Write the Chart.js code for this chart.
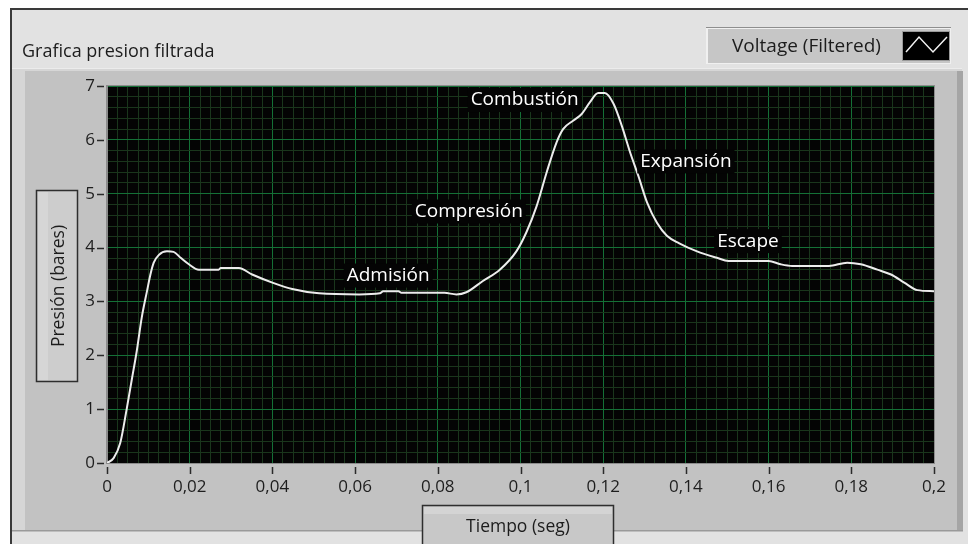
<!DOCTYPE html>
<html>
<head>
<meta charset="utf-8">
<script src="https://cdn.jsdelivr.net/npm/chart.js@4/dist/chart.umd.min.js"></script>
<style>
html,body{margin:0;padding:0;background:#fff;}
#wrap{position:relative;width:968px;height:544px;}
canvas{display:block;}
</style>
</head>
<body>
<div id="wrap"><canvas id="c" width="968" height="544"></canvas></div>
<script>
// ---------- data ----------
const chartTitle = 'Grafica presion filtrada';
const seriesName = 'Voltage (Filtered)';
const xAxisTitle = 'Tiempo (seg)';
const yAxisTitle = 'Presión (bares)';

const xTickValues = [0, 0.02, 0.04, 0.06, 0.08, 0.1, 0.12, 0.14, 0.16, 0.18, 0.2];
const xTickLabels = ['0', '0,02', '0,04', '0,06', '0,08', '0,1', '0,12', '0,14', '0,16', '0,18', '0,2'];
const yTickValues = [0, 1, 2, 3, 4, 5, 6, 7];
const yTickLabels = ['0', '1', '2', '3', '4', '5', '6', '7'];

const tiempo = [
  0, 0.0016, 0.0032, 0.0048, 0.006, 0.0072, 0.0084, 0.0097, 0.0105, 0.0113,
  0.0125, 0.0145, 0.0161, 0.0178, 0.0198, 0.0222, 0.027, 0.0275, 0.0319, 0.0351,
  0.04, 0.0448, 0.0513, 0.061, 0.066, 0.0668, 0.0705, 0.0712, 0.0816, 0.0845,
  0.0869, 0.0909, 0.095, 0.099, 0.1014, 0.1039, 0.1063, 0.1087, 0.1103, 0.1128,
  0.1148, 0.1168, 0.1188, 0.1204, 0.1225, 0.1245, 0.1265, 0.1285, 0.1306, 0.133,
  0.1354, 0.1384, 0.1427, 0.1475, 0.1503, 0.16, 0.1629, 0.1657, 0.1746, 0.179,
  0.1823, 0.1863, 0.1896, 0.1928, 0.196, 0.2
];
const presion = [
  0, 0.09, 0.37, 1.02, 1.55, 2.08, 2.70, 3.20, 3.50, 3.72,
  3.86, 3.93, 3.92, 3.81, 3.69, 3.59, 3.59, 3.62, 3.62, 3.50,
  3.35, 3.23, 3.15, 3.13, 3.15, 3.19, 3.19, 3.16, 3.16, 3.13,
  3.17, 3.38, 3.59, 3.93, 4.28, 4.77, 5.39, 5.95, 6.20, 6.36,
  6.48, 6.70, 6.87, 6.87, 6.67, 6.26, 5.77, 5.33, 4.84, 4.46,
  4.22, 4.08, 3.93, 3.81, 3.75, 3.75, 3.69, 3.66, 3.66, 3.72,
  3.69, 3.59, 3.50, 3.35, 3.21, 3.19
];

const phaseNames = ['Admisión', 'Compresión', 'Combustión', 'Expansión', 'Escape'];
const phaseTimes = [0.068, 0.0875, 0.101, 0.140, 0.155];
const phasePressures = [3.48, 4.67, 6.74, 5.60, 4.12];

// ---------- helpers ----------
const FONT = "'Open Sans', 'DejaVu Sans', sans-serif";
const MAJOR = 'rgb(20,112,54)';
const MINOR = 'rgb(26,54,28)';
function idxOf(arr, v) {
  for (let i = 0; i < arr.length; i++) if (Math.abs(arr[i] - v) < 1e-7) return i;
  return -1;
}

const framePlugin = {
  id: 'frame',
  beforeDraw(chart) {
    const ctx = chart.ctx;
    const a = chart.chartArea;
    ctx.save();
    // page
    ctx.fillStyle = '#ffffff';
    ctx.fillRect(0, 0, 968, 544);
    // outer dark border (top & left)
    ctx.fillStyle = '#3a3a3a';
    ctx.fillRect(10, 8, 958, 2);
    ctx.fillRect(10, 8, 2, 536);
    // light panel
    ctx.fillStyle = '#e2e2e2';
    ctx.fillRect(12, 10, 956, 534);
    // graph frame
    ctx.fillStyle = '#d6d6d6';
    ctx.fillRect(12, 69, 950, 462);
    ctx.fillStyle = '#c2c2c2';
    ctx.fillRect(25, 71, 932, 459);
    ctx.fillStyle = '#ececec';
    ctx.fillRect(12, 68, 950, 1);
    ctx.fillStyle = '#a5a5a5';
    ctx.fillRect(957, 71, 6, 460);
    ctx.fillStyle = '#9a9a9a';
    ctx.fillRect(12, 530, 951, 1.5);

    // title
    ctx.fillStyle = '#1c1c1c';
    ctx.font = '18px ' + FONT;
    ctx.textAlign = 'left';
    ctx.textBaseline = 'middle';
    ctx.fillText(chartTitle, 22, 52);

    // legend box
    ctx.fillStyle = '#f0f0f0';
    ctx.fillRect(706, 27, 245, 37);
    ctx.fillStyle = '#c6c6c6';
    ctx.fillRect(708, 29, 242, 34);
    ctx.fillStyle = '#8e8e8e';
    ctx.fillRect(706, 27, 245, 1);
    ctx.fillStyle = '#1c1c1c';
    ctx.font = '19px ' + FONT;
    ctx.fillText(seriesName, 732, 47);
    ctx.fillStyle = '#000';
    ctx.fillRect(903, 32, 46, 28);
    ctx.strokeStyle = '#9a9a9a';
    ctx.lineWidth = 1;
    ctx.strokeRect(902.5, 31.5, 47, 29);
    ctx.strokeStyle = '#f2f2f2';
    ctx.lineWidth = 1.5;
    ctx.beginPath();
    ctx.moveTo(906, 52); ctx.lineTo(919, 37); ctx.lineTo(933, 52); ctx.lineTo(947, 37);
    ctx.stroke();

    // y axis title box
    ctx.fillStyle = '#cdcdcd';
    ctx.fillRect(36, 190, 42, 192);
    ctx.fillStyle = '#d6d6d6';
    ctx.fillRect(38, 192, 10, 188);
    ctx.strokeStyle = '#2e2e2e';
    ctx.lineWidth = 1.5;
    ctx.strokeRect(36.5, 190.5, 41, 191);
    ctx.save();
    ctx.translate(59, 286);
    ctx.rotate(-Math.PI / 2);
    ctx.fillStyle = '#1c1c1c';
    ctx.font = '17.5px ' + FONT;
    ctx.textAlign = 'center';
    ctx.fillText(yAxisTitle, 0, 0);
    ctx.restore();

    // x axis title box
    ctx.fillStyle = '#c8c8c8';
    ctx.fillRect(422, 505, 192, 39);
    ctx.fillStyle = '#d4d4d4';
    ctx.fillRect(424, 507, 188, 7);
    ctx.strokeStyle = '#2e2e2e';
    ctx.lineWidth = 1.5;
    ctx.beginPath();
    ctx.moveTo(422.5, 544); ctx.lineTo(422.5, 505.5); ctx.lineTo(613.5, 505.5); ctx.lineTo(613.5, 544);
    ctx.stroke();
    ctx.fillStyle = '#1c1c1c';
    ctx.font = '17.5px ' + FONT;
    ctx.textAlign = 'center';
    ctx.fillText(xAxisTitle, 518, 527);

    // plot background
    ctx.fillStyle = '#040404';
    ctx.fillRect(a.left, a.top, a.right - a.left, a.bottom - a.top);
    ctx.restore();
  },
  beforeDatasetsDraw(chart) {
    const ctx = chart.ctx;
    const a = chart.chartArea;
    const xs = chart.scales.x, ys = chart.scales.y;
    ctx.save();
    ctx.strokeStyle = '#8c8c8c';
    ctx.lineWidth = 1;
    ctx.strokeRect(a.left - 0.5, a.top - 0.5, a.right - a.left + 1, a.bottom - a.top + 1);
    // tick marks
    ctx.strokeStyle = '#2a2a2a';
    ctx.lineWidth = 1.5;
    ctx.beginPath();
    xTickValues.forEach(v => {
      const px = Math.round(xs.getPixelForValue(v)) + 0.5;
      ctx.moveTo(px, a.bottom + 4); ctx.lineTo(px, a.bottom + 11);
    });
    yTickValues.forEach(v => {
      const py = Math.round(ys.getPixelForValue(v)) + 0.5;
      ctx.moveTo(a.left - 10, py); ctx.lineTo(a.left - 3, py);
    });
    ctx.stroke();
    ctx.restore();
  },
  afterDatasetsDraw(chart) {
    const ctx = chart.ctx;
    const xs = chart.scales.x, ys = chart.scales.y;
    ctx.save();
    ctx.font = '19px ' + FONT;
    ctx.textAlign = 'center';
    ctx.textBaseline = 'middle';
    phaseNames.forEach((name, i) => {
      const px = xs.getPixelForValue(phaseTimes[i]);
      const py = ys.getPixelForValue(phasePressures[i]);
      const w = ctx.measureText(name).width;
      ctx.fillStyle = '#040404';
      ctx.fillRect(px - w / 2 - 3, py - 12, w + 6, 24);
      ctx.fillStyle = '#ffffff';
      ctx.fillText(name, px, py);
    });
    ctx.restore();
  }
};

const points = tiempo.map((t, i) => ({ x: t, y: presion[i] }));

new Chart(document.getElementById('c'), {
  type: 'line',
  data: {
    datasets: [{
      label: seriesName,
      data: points,
      borderColor: '#ececec',
      borderWidth: 2,
      pointRadius: 0,
      fill: false,
      cubicInterpolationMode: 'monotone'
    }]
  },
  options: {
    responsive: false,
    animation: false,
    devicePixelRatio: 1,
    layout: { padding: { left: 0, right: 34, top: 86, bottom: 0 } },
    plugins: { legend: { display: false }, title: { display: false }, tooltip: { enabled: false } },
    scales: {
      x: {
        type: 'linear', min: 0, max: 0.2,
        afterFit(s) { s.height = 81; },
        ticks: {
          stepSize: 0.0025, autoSkip: false, maxRotation: 0, minRotation: 0,
          padding: 14, color: '#1e1e1e', font: { family: FONT, size: 17 },
          callback: v => { const i = idxOf(xTickValues, v); return i >= 0 ? xTickLabels[i] : ''; }
        },
        grid: {
          drawTicks: false, lineWidth: 1,
          color: c => (c.tick && idxOf(xTickValues, c.tick.value) >= 0) ? MAJOR : MINOR
        },
        border: { display: true, color: '#8c8c8c' }
      },
      y: {
        type: 'linear', min: 0, max: 7,
        afterFit(s) { s.width = 107; },
        ticks: {
          stepSize: 0.2, autoSkip: false,
          padding: 12, color: '#1e1e1e', font: { family: FONT, size: 17 },
          callback: v => { const i = idxOf(yTickValues, v); return i >= 0 ? yTickLabels[i] : ''; }
        },
        grid: {
          drawTicks: false, lineWidth: 1,
          color: c => (c.tick && idxOf(yTickValues, c.tick.value) >= 0) ? MAJOR : MINOR
        },
        border: { display: true, color: '#8c8c8c' }
      }
    }
  },
  plugins: [framePlugin]
});
</script>
</body>
</html>
